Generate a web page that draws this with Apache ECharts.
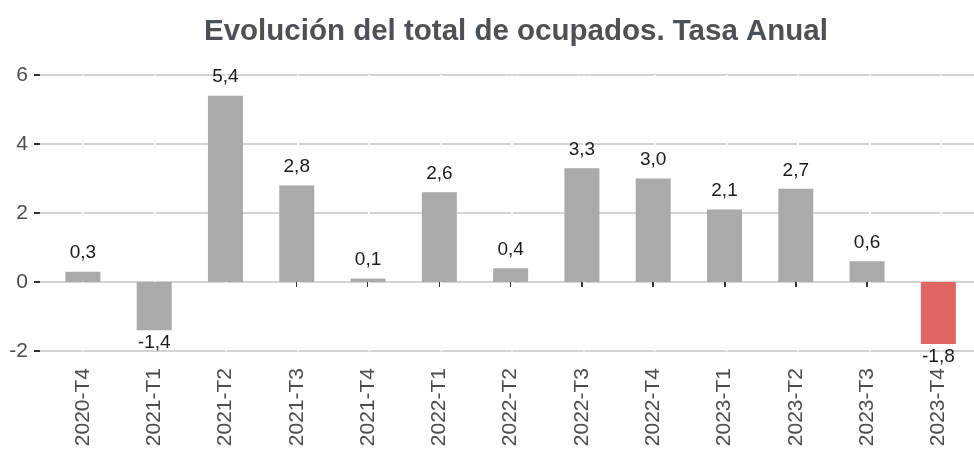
<!DOCTYPE html>
<html>
<head>
<meta charset="utf-8">
<script src="https://cdn.jsdelivr.net/npm/echarts@6/dist/echarts.min.js"></script>
<style>
  html, body { margin: 0; padding: 0; background: #fff; }
  #chart { width: 974px; height: 453px; }
</style>
</head>
<body>
<div id="chart"></div>
<script>
// datos
const periodos = ['2020-T4', '2021-T1', '2021-T2', '2021-T3', '2021-T4', '2022-T1', '2022-T2',
  '2022-T3', '2022-T4', '2023-T1', '2023-T2', '2023-T3', '2023-T4'];
const tasaAnual = [0.3, -1.4, 5.4, 2.8, 0.1, 2.6, 0.4, 3.3, 3.0, 2.1, 2.7, 0.6, -1.8];
const yTicks = [-2, 0, 2, 4, 6];

const FONT = "'Liberation Sans', Arial, sans-serif";
const GRIS = '#aaaaaa';
const ROJO = '#e06462';

const chart = echarts.init(document.getElementById('chart'));

const barData = tasaAnual.map((v, i) => ({
  value: v,
  itemStyle: { color: i === tasaAnual.length - 1 ? ROJO : GRIS },
  label: v >= 0 ? { position: 'top', distance: 9 } : { position: 'bottom', distance: 3 }
}));

const option = {
  animation: false,
  title: {
    text: 'Evolución del total de ocupados. Tasa Anual',
    left: 199,
    top: 12,
    textStyle: { fontFamily: FONT, fontSize: 29.5, fontWeight: 'bold', color: '#4d5054' }
  },
  grid: [
    { left: 40, right: 0, top: 75, bottom: 102 },
    { left: 47.25, width: 929.5, top: 75, bottom: 102 },
    // rejilla auxiliar para las lineas verticales blancas en el centro de cada barra
    { left: 83, width: 858, top: 75, bottom: 102 }
  ],
  xAxis: [
    { type: 'category', gridIndex: 0, data: periodos, show: false },
    {
      type: 'category', gridIndex: 1, data: periodos, offset: 11,
      axisLine: { show: false },
      axisTick: { show: true, alignWithLabel: true, length: 5, lineStyle: { color: '#333', width: 2 } },
      axisLabel: { rotate: 90, margin: 6, fontFamily: FONT, fontSize: 21, color: '#4d4d4d' },
      splitLine: { show: false }
    },
    {
      type: 'value', gridIndex: 2, min: 0, max: periodos.length - 1, interval: 1, z: 1,
      axisLine: { show: false }, axisTick: { show: false }, axisLabel: { show: false },
      splitLine: { show: true, lineStyle: { color: '#ffffff', width: 2 } }
    }
  ],
  yAxis: [
    {
      type: 'value', gridIndex: 0, min: yTicks[0], max: yTicks[yTicks.length - 1], interval: 2, z: 0,
      axisLine: { show: false },
      axisTick: { show: true, length: 6, lineStyle: { color: '#333', width: 2 } },
      axisLabel: { margin: 12, fontFamily: FONT, fontSize: 21, color: '#4d4d4d' },
      splitLine: { lineStyle: { color: '#d4d4d4', width: 2 } }
    },
    {
      type: 'value', gridIndex: 1, min: yTicks[0], max: yTicks[yTicks.length - 1], interval: 2,
      show: false, splitLine: { show: false }
    },
    {
      type: 'value', gridIndex: 2, min: yTicks[0], max: yTicks[yTicks.length - 1], interval: 2,
      show: false, splitLine: { show: false }
    }
  ],
  series: [
    {
      type: 'bar', xAxisIndex: 1, yAxisIndex: 1, z: 3, barWidth: 35,
      data: barData,
      label: {
        show: true, fontFamily: FONT, fontSize: 19, color: '#1a1a1a',
        formatter: p => p.value.toFixed(1).replace('.', ',')
      }
    }
  ]
};

chart.setOption(option);
</script>
</body>
</html>
